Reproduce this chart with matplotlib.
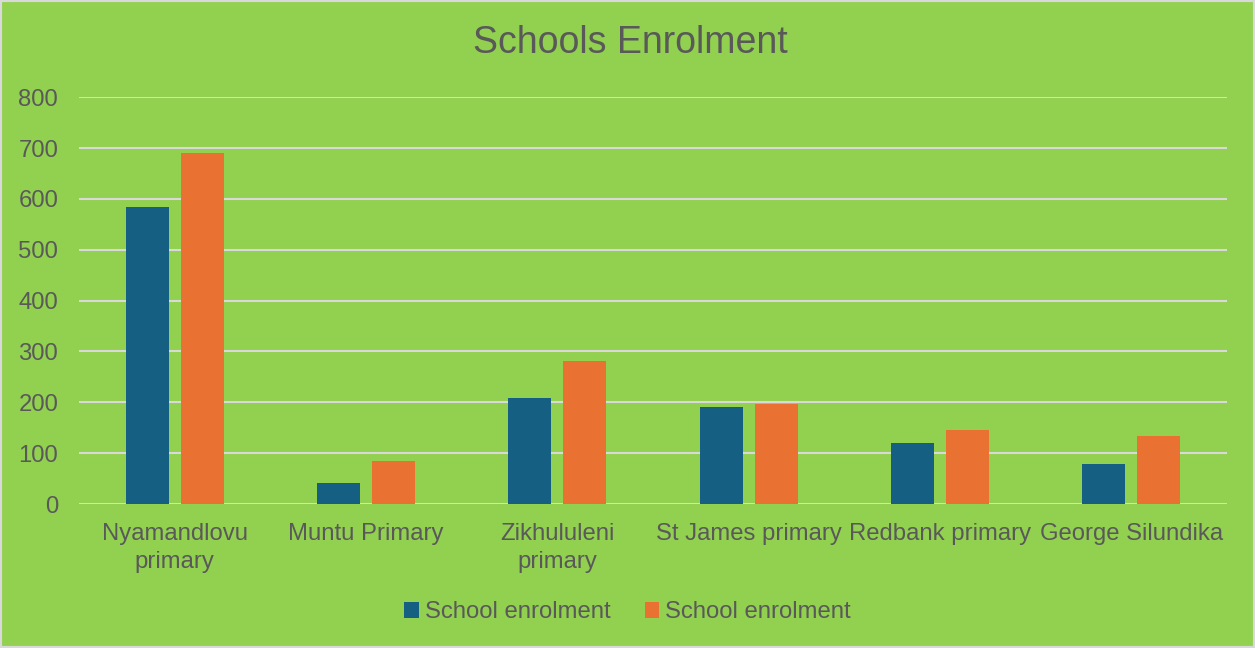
import matplotlib
matplotlib.use("Agg")
import matplotlib.pyplot as plt
import numpy as np
from matplotlib.patches import Patch

plt.rcParams['font.family'] = ['Liberation Sans', 'DejaVu Sans']

schools = ['Nyamandlovu\nprimary', 'Muntu Primary', 'Zikhululeni\nprimary',
           'St James primary', 'Redbank primary', 'George Silundika']
enrol_a = [585, 41, 208, 191, 120, 79]
enrol_b = [690, 84, 281, 196, 145, 134]
series_names = ['School enrolment', 'School enrolment']

BG = '#92d050'
TXT = '#595959'
BLUE = '#156082'
ORANGE = '#e97132'

fig = plt.figure(figsize=(12.55, 6.48), dpi=100, facecolor=BG)
ax = fig.add_axes([0.063, 0.2222, 0.9147, 0.6278])
ax.set_facecolor(BG)

x = np.arange(len(schools))
w = 0.225
off = 0.144
ax.bar(x - off, enrol_a, w, color=BLUE, zorder=3)
ax.bar(x + off, enrol_b, w, color=ORANGE, zorder=3)

ax.set_xlim(-0.5, len(schools) - 0.5)
ax.set_ylim(0, 800)
ax.set_yticks(range(0, 801, 100))
ax.yaxis.grid(True, color='#d9d9d9', linewidth=1.5, zorder=0)
ax.set_axisbelow(True)
for s in ax.spines.values():
    s.set_visible(False)
ax.tick_params(axis='both', length=0, labelsize=17.2, colors=TXT)
ax.tick_params(axis='y', pad=15)
ax.tick_params(axis='x', pad=14)
ax.set_xticks(x)
ax.set_xticklabels(schools, linespacing=1.35)

fig.text(0.502, 0.933, 'Schools Enrolment', ha='center', va='center',
         fontsize=27, color=TXT)

handles = [Patch(facecolor=BLUE), Patch(facecolor=ORANGE)]
fig.legend(handles, series_names, loc='center', bbox_to_anchor=(0.5, 0.055),
           ncol=2, frameon=False, fontsize=17.2, labelcolor=TXT,
           handlelength=0.6, handleheight=0.6, handletextpad=0.25,
           columnspacing=1.45)

# thin light border around the chart
fig.add_artist(plt.Rectangle((0, 0), 1, 1, transform=fig.transFigure,
                             fill=False, edgecolor='#d9d9d9', linewidth=3))

fig.savefig('out.png', dpi=100, facecolor=BG)
